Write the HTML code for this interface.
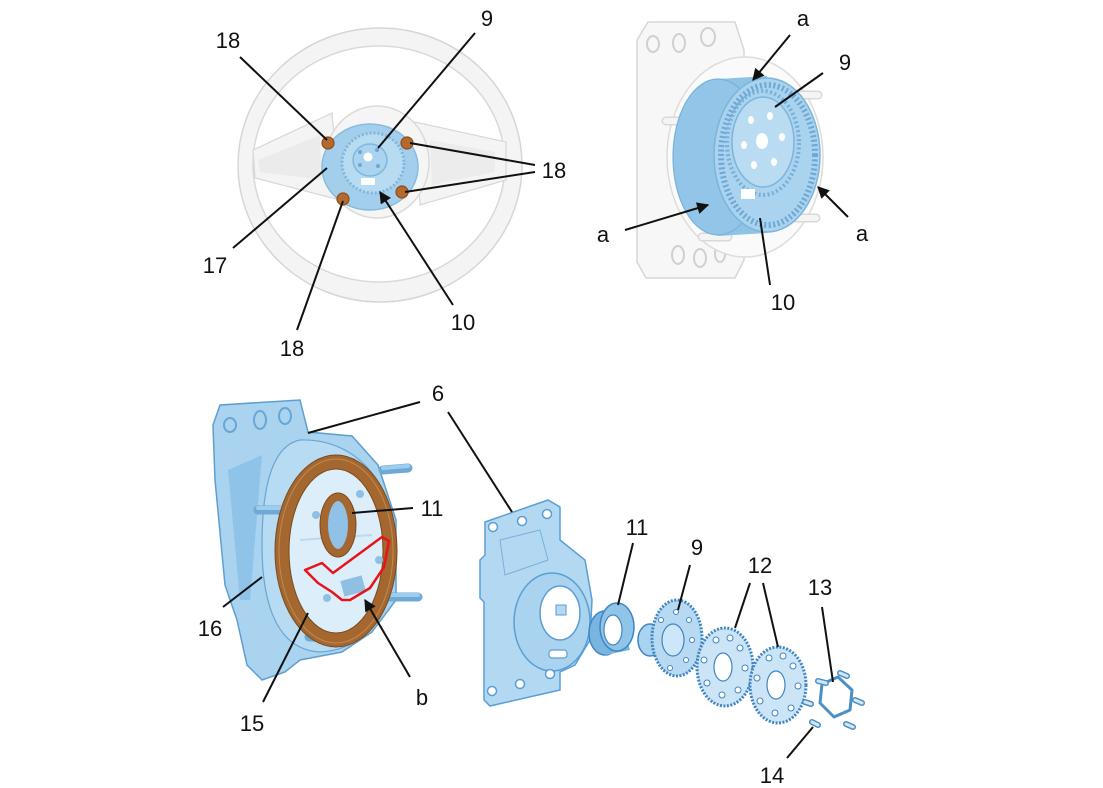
<!DOCTYPE html>
<html>
<head>
<meta charset="utf-8">
<style>
html,body{margin:0;padding:0;background:#fff;}
svg{display:block;}
text{font-family:"Liberation Sans",Arial,sans-serif;font-size:22px;fill:#111;text-anchor:middle;}
</style>
</head>
<body>
<svg width="1103" height="788" viewBox="0 0 1103 788" xmlns="http://www.w3.org/2000/svg">
<defs>
<marker id="ah2" viewBox="0 0 10 10" refX="9" refY="5" markerWidth="14" markerHeight="12" orient="auto" markerUnits="userSpaceOnUse">
<path d="M0,0 L10,5 L0,10 z" fill="#111"/>
</marker>
</defs>

<!-- ============ STEERING WHEEL ============ -->
<g>
<ellipse cx="380" cy="165" rx="142" ry="137" fill="#f4f4f4" stroke="#d6d6d6" stroke-width="1.5"/>
<ellipse cx="379" cy="164" rx="126" ry="118" fill="#fff" stroke="#d9d9d9" stroke-width="1.5"/>
<!-- spokes -->
<path d="M253,150 L332,113 L340,200 L255,178 Z" fill="#f4f4f4" stroke="#d8d8d8" stroke-width="1.2"/>
<path d="M258,160 L320,135 L322,180 L260,172 Z" fill="#ebebeb"/>
<path d="M415,122 L506,142 L506,180 L420,205 Z" fill="#f4f4f4" stroke="#d8d8d8" stroke-width="1.2"/>
<path d="M430,140 L495,152 L495,172 L432,185 Z" fill="#ececec"/>
<ellipse cx="377" cy="162" rx="52" ry="56" fill="#f5f5f5" stroke="#dadada" stroke-width="1.5"/>
<!-- hub -->
<ellipse cx="370" cy="167" rx="48" ry="43" fill="#a3cfec" stroke="#86bce0" stroke-width="1.5"/>
<ellipse cx="373" cy="163" rx="31" ry="30" fill="#b7dbf1" stroke="#7fb6dc" stroke-width="3" stroke-dasharray="2 2"/>
<ellipse cx="370" cy="160" rx="17" ry="16" fill="#a9d3ee" stroke="#80b7dc" stroke-width="1.5"/>
<circle cx="368" cy="157" r="4.5" fill="#fff"/>
<circle cx="360" cy="152" r="2" fill="#6fa8d3"/><circle cx="377" cy="150" r="2" fill="#6fa8d3"/>
<circle cx="360" cy="165" r="2" fill="#6fa8d3"/><circle cx="378" cy="166" r="2" fill="#6fa8d3"/>
<rect x="361" y="178" width="14" height="7" fill="#fff"/>
<!-- bolts -->
<g fill="#b56a2d" stroke="#8a4c1c" stroke-width="1.2">
<circle cx="328" cy="143" r="6"/><circle cx="407" cy="143" r="6"/>
<circle cx="402" cy="192" r="6"/><circle cx="343" cy="199" r="6"/>
</g>
</g>

<!-- ============ TOP RIGHT MODULE ============ -->
<g>
<path d="M637,40 L648,22 L735,22 L744,50 L744,260 L735,278 L646,278 L637,262 Z" fill="#f7f7f7" stroke="#d7d7d7" stroke-width="1.5"/>
<g fill="none" stroke="#d0d0d0" stroke-width="2">
<ellipse cx="653" cy="44" rx="6" ry="8"/><ellipse cx="679" cy="43" rx="6" ry="9"/><ellipse cx="708" cy="37" rx="7" ry="9"/>
<ellipse cx="678" cy="255" rx="6" ry="9"/><ellipse cx="700" cy="258" rx="6" ry="9"/><ellipse cx="720" cy="254" rx="5" ry="8"/>
</g>
<ellipse cx="745" cy="157" rx="78" ry="100" fill="#fafafa" stroke="#dcdcdc" stroke-width="1.5"/>
<g stroke="#d9d9d9" stroke-width="9" stroke-linecap="round">
<line x1="666" y1="121" x2="698" y2="121"/><line x1="800" y1="95" x2="818" y2="95"/>
<line x1="702" y1="237" x2="728" y2="237"/><line x1="790" y1="218" x2="816" y2="218"/>
</g>
<g stroke="#f4f4f4" stroke-width="6" stroke-linecap="round">
<line x1="666" y1="121" x2="698" y2="121"/><line x1="800" y1="95" x2="818" y2="95"/>
<line x1="702" y1="237" x2="728" y2="237"/><line x1="790" y1="218" x2="816" y2="218"/>
</g>
<!-- drum -->
<path d="M718,79 L767,76 L767,233 L718,236 Z" fill="#8fc3e6"/>
<ellipse cx="718" cy="157" rx="45" ry="78" fill="#92c5e7" stroke="#79b2da" stroke-width="1.2"/>
<ellipse cx="767" cy="155" rx="53" ry="77" fill="#a9d3ef" stroke="#7db4da" stroke-width="1.5"/>
<ellipse cx="768" cy="155" rx="47" ry="70" fill="none" stroke="#6ea7d3" stroke-width="6" stroke-dasharray="2 2.5"/>
<ellipse cx="763" cy="143" rx="36" ry="52" fill="none" stroke="#78afd8" stroke-width="4" stroke-dasharray="2 2.5"/>
<ellipse cx="763" cy="142" rx="31" ry="45" fill="#b9dcf2" stroke="#7fb4da" stroke-width="1.5"/>
<ellipse cx="762" cy="141" rx="6" ry="8" fill="#fff"/>
<g fill="#fff">
<ellipse cx="751" cy="120" rx="3" ry="4"/><ellipse cx="770" cy="116" rx="3" ry="4"/>
<ellipse cx="782" cy="137" rx="3" ry="4"/><ellipse cx="744" cy="145" rx="3" ry="4"/>
<ellipse cx="754" cy="165" rx="3" ry="4"/><ellipse cx="774" cy="162" rx="3" ry="4"/>
</g>
<rect x="741" y="189" width="14" height="10" fill="#fff"/>
</g>

<!-- ============ BOTTOM LEFT HOUSING ============ -->
<g>
<path d="M213,425 L220,405 L300,400 L308,432 L352,436 L378,465 L396,520 L396,600 L372,632 L342,652 L300,660 L285,672 L262,680 L247,665 L237,620 L225,585 L215,480 Z" fill="#a9d3ef" stroke="#5f9fd0" stroke-width="1.5"/>
<path d="M228,470 L262,455 L250,600 L240,600 Z" fill="#8fc3e7"/>
<g fill="none" stroke="#6aa6d4" stroke-width="2">
<ellipse cx="230" cy="425" rx="6" ry="7"/><ellipse cx="260" cy="420" rx="6" ry="9"/><ellipse cx="285" cy="416" rx="6" ry="8"/>
</g>
<path d="M300,440 C360,438 400,490 396,560 C392,620 360,650 320,652 C280,650 262,610 262,545 C262,480 275,445 300,440 Z" fill="#b7dbf2" stroke="#6aa6d4" stroke-width="1.2"/>
<!-- studs -->
<g stroke="#6fa9d6" stroke-width="9" stroke-linecap="round">
<line x1="383" y1="470" x2="408" y2="468"/><line x1="258" y1="510" x2="288" y2="510"/>
<line x1="388" y1="597" x2="418" y2="597"/><line x1="309" y1="637" x2="346" y2="638"/>
</g>
<g stroke="#9fcdee" stroke-width="4" stroke-linecap="round">
<line x1="383" y1="468" x2="408" y2="466"/><line x1="258" y1="508" x2="288" y2="508"/>
<line x1="388" y1="595" x2="418" y2="595"/><line x1="309" y1="635" x2="346" y2="636"/>
</g>
<!-- brown seal ring -->
<ellipse cx="336" cy="551" rx="54" ry="89" fill="#dceef9" stroke="#a3672f" stroke-width="14"/>
<ellipse cx="336" cy="551" rx="61" ry="96" fill="none" stroke="#7a4a1e" stroke-width="1"/>
<ellipse cx="336" cy="551" rx="47" ry="82" fill="none" stroke="#7a4a1e" stroke-width="1"/>
<ellipse cx="336" cy="551" rx="57" ry="92" fill="none" stroke="#c08a52" stroke-width="1"/>
<path d="M300,540 L372,535" stroke="#bcd9ee" stroke-width="2"/>
<g fill="#8fc0e3">
<circle cx="316" cy="515" r="4"/><circle cx="360" cy="494" r="4"/><circle cx="379" cy="560" r="4"/><circle cx="327" cy="598" r="4"/>
</g>
<rect x="342" y="578" width="22" height="16" fill="#8fbfe2" transform="rotate(-15 353 586)"/>
<!-- small seal 11 -->
<ellipse cx="338" cy="525" rx="14" ry="28" fill="#8fc2e6" stroke="#a3672f" stroke-width="8"/>
<ellipse cx="338" cy="525" rx="18" ry="32" fill="none" stroke="#7a4a1e" stroke-width="1"/>
<!-- red outline -->
<path d="M305,570 L322,563 L333,573 L382,537 L389,541 L384,567 L370,588 L350,600 L342,600 L332,592 L318,583 Z" fill="none" stroke="#e8141a" stroke-width="2.5" stroke-linejoin="round"/>
</g>

<!-- ============ EXPLODED VIEW ============ -->
<g>
<path d="M485,522 L548,500 L560,507 L560,540 L585,560 L592,600 L590,640 L575,665 L560,672 L560,690 L490,706 L484,700 L484,602 L480,598 L480,560 L485,555 Z" fill="#b3d8f2" stroke="#5a9fd3" stroke-width="1.5"/>
<ellipse cx="552" cy="622" rx="38" ry="49" fill="#aad3ef" stroke="#5a9fd3" stroke-width="1.5"/>
<ellipse cx="560" cy="613" rx="20" ry="27" fill="#fff" stroke="#5a9fd3" stroke-width="1.5"/>
<path d="M556,605 L566,605 L566,615 L556,615 Z" fill="#b3d8f2" stroke="#5a9fd3" stroke-width="1"/>
<rect x="549" y="650" width="18" height="8" rx="3" fill="#fff" stroke="#5a9fd3" stroke-width="1.2"/>
<path d="M500,540 L540,530 L548,560 L505,575 Z" fill="none" stroke="#78b1dc" stroke-width="1"/>
<g fill="#fff" stroke="#5a9fd3" stroke-width="1.5">
<circle cx="493" cy="527" r="4.5"/><circle cx="522" cy="521" r="4.5"/><circle cx="547" cy="514" r="4.5"/>
<circle cx="492" cy="691" r="4.5"/><circle cx="520" cy="684" r="4.5"/><circle cx="550" cy="674" r="4.5"/>
</g>
<!-- seal 11 -->
<ellipse cx="605" cy="633" rx="16" ry="22" fill="#7ab5df" stroke="#3f86c3" stroke-width="1.5"/>
<path d="M605,611 L617,603 L630,650 L605,655 Z" fill="#7ab5df"/>
<ellipse cx="617" cy="627" rx="17" ry="24" fill="#90c4e8" stroke="#3f86c3" stroke-width="1.5"/>
<ellipse cx="613" cy="630" rx="9" ry="15" fill="#fff" stroke="#3f86c3" stroke-width="1.2"/>
<!-- gear 9 -->
<ellipse cx="650" cy="640" rx="12" ry="16" fill="#a9d3ef" stroke="#3f86c3" stroke-width="1.5"/>
<ellipse cx="677" cy="638" rx="25" ry="38" fill="#b7daf2" stroke="#3f86c3" stroke-width="3" stroke-dasharray="2 1.5"/>
<ellipse cx="673" cy="640" rx="11" ry="16" fill="#cde7f8" stroke="#3f86c3" stroke-width="1.2"/>
<g fill="#fff" stroke="#3f86c3" stroke-width="1">
<circle cx="676" cy="612" r="2.5"/><circle cx="689" cy="620" r="2.5"/><circle cx="692" cy="640" r="2.5"/>
<circle cx="686" cy="660" r="2.5"/><circle cx="670" cy="668" r="2.5"/><circle cx="661" cy="620" r="2.5"/>
</g>
<!-- discs 12 -->
<ellipse cx="725" cy="667" rx="28" ry="39" fill="#cbe5f7" stroke="#3f86c3" stroke-width="3" stroke-dasharray="2 1.5"/>
<ellipse cx="723" cy="667" rx="9" ry="14" fill="#fff" stroke="#3f86c3" stroke-width="1.2"/>
<g fill="#fff" stroke="#3f86c3" stroke-width="1">
<circle cx="716" cy="640" r="3"/><circle cx="730" cy="638" r="3"/><circle cx="740" cy="648" r="3"/>
<circle cx="745" cy="668" r="3"/><circle cx="738" cy="690" r="3"/><circle cx="722" cy="695" r="3"/><circle cx="707" cy="683" r="3"/><circle cx="704" cy="660" r="3"/>
</g>
<ellipse cx="778" cy="685" rx="28" ry="38" fill="#cbe5f7" stroke="#3f86c3" stroke-width="3" stroke-dasharray="2 1.5"/>
<ellipse cx="776" cy="685" rx="9" ry="14" fill="#fff" stroke="#3f86c3" stroke-width="1.2"/>
<g fill="#fff" stroke="#3f86c3" stroke-width="1">
<circle cx="769" cy="658" r="3"/><circle cx="783" cy="656" r="3"/><circle cx="793" cy="666" r="3"/>
<circle cx="798" cy="686" r="3"/><circle cx="791" cy="708" r="3"/><circle cx="775" cy="713" r="3"/><circle cx="760" cy="701" r="3"/><circle cx="757" cy="678" r="3"/>
</g>
<!-- 13 hex + 14 pins -->
<path d="M822,684 L838,677 L852,690 L850,710 L834,717 L820,703 Z" fill="#fff" stroke="#4a8fc6" stroke-width="3" stroke-linejoin="round"/>
<g stroke="#4a8fc6" stroke-width="6" stroke-linecap="round">
<line x1="818" y1="681" x2="826" y2="683"/><line x1="840" y1="673" x2="847" y2="676"/>
<line x1="855" y1="700" x2="862" y2="703"/><line x1="846" y1="724" x2="853" y2="727"/>
<line x1="812" y1="722" x2="818" y2="725"/><line x1="805" y1="702" x2="811" y2="704"/>
</g>
<g stroke="#d2e8f7" stroke-width="3" stroke-linecap="round">
<line x1="818" y1="681" x2="826" y2="683"/><line x1="840" y1="673" x2="847" y2="676"/>
<line x1="855" y1="700" x2="862" y2="703"/><line x1="846" y1="724" x2="853" y2="727"/>
<line x1="812" y1="722" x2="818" y2="725"/><line x1="805" y1="702" x2="811" y2="704"/>
</g>
</g>

<!-- ============ LEADER LINES ============ -->
<g stroke="#111" stroke-width="2" fill="none">
<line x1="240" y1="57" x2="327" y2="140"/>
<line x1="475" y1="33" x2="378" y2="148"/>
<line x1="535" y1="165" x2="410" y2="143"/>
<line x1="535" y1="172" x2="405" y2="192"/>
<line x1="233" y1="248" x2="327" y2="168"/>
<line x1="297" y1="330" x2="343" y2="201"/>
<line x1="453" y1="305" x2="380" y2="192" marker-end="url(#ah2)"/>

<line x1="790" y1="35" x2="753" y2="80" marker-end="url(#ah2)"/>
<line x1="823" y1="73" x2="775" y2="107"/>
<line x1="848" y1="217" x2="818" y2="187" marker-end="url(#ah2)"/>
<line x1="625" y1="230" x2="708" y2="205" marker-end="url(#ah2)"/>
<line x1="770" y1="285" x2="760" y2="218"/>

<line x1="420" y1="402" x2="308" y2="433"/>
<line x1="448" y1="412" x2="512" y2="512"/>
<line x1="413" y1="508" x2="352" y2="513"/>
<line x1="223" y1="607" x2="262" y2="577"/>
<line x1="263" y1="702" x2="308" y2="613"/>
<line x1="410" y1="677" x2="365" y2="600" marker-end="url(#ah2)"/>

<line x1="633" y1="543" x2="618" y2="605"/>
<line x1="690" y1="565" x2="678" y2="610"/>
<line x1="750" y1="583" x2="735" y2="628"/>
<line x1="763" y1="583" x2="778" y2="647"/>
<line x1="822" y1="607" x2="833" y2="682"/>
<line x1="787" y1="758" x2="813" y2="727"/>
</g>

<!-- ============ LABELS ============ -->
<text x="228" y="48">18</text>
<text x="487" y="26">9</text>
<text x="554" y="178">18</text>
<text x="215" y="273">17</text>
<text x="292" y="356">18</text>
<text x="463" y="330">10</text>

<text x="803" y="26">a</text>
<text x="845" y="70">9</text>
<text x="862" y="241">a</text>
<text x="603" y="242">a</text>
<text x="783" y="310">10</text>

<text x="438" y="401">6</text>
<text x="432" y="516">11</text>
<text x="210" y="636">16</text>
<text x="252" y="731">15</text>
<text x="422" y="705">b</text>

<text x="637" y="535">11</text>
<text x="697" y="555">9</text>
<text x="760" y="573">12</text>
<text x="820" y="595">13</text>
<text x="772" y="783">14</text>
</svg>
</body>
</html>
